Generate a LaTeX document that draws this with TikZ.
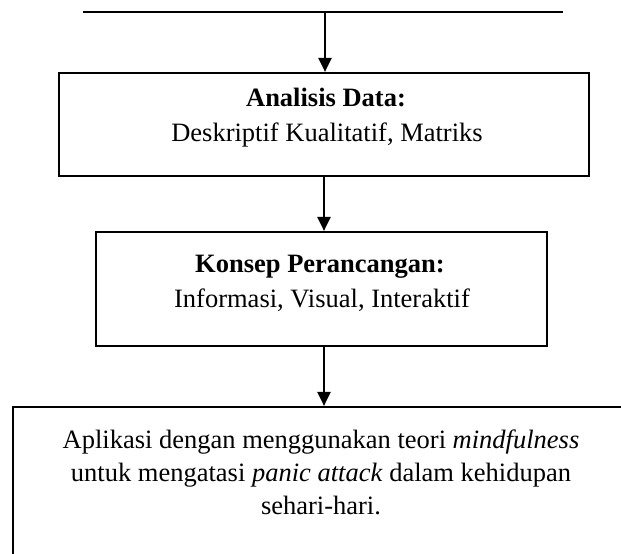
\documentclass[tikz,border=0pt]{standalone}
\usepackage{fontspec}
\setmainfont{Liberation Serif}
\usetikzlibrary{arrows.meta}
\begin{document}
\begin{tikzpicture}[x=1pt,y=-1pt,
  box/.style={draw=black, line width=2.2pt, inner sep=0pt, rectangle},
  txt/.style={anchor=base, inner sep=0pt, font=\fontsize{26.5}{33}\selectfont},
  conn/.style={line width=2.2pt, -{Triangle[length=14pt,width=13pt]}}]
\useasboundingbox (0,0) rectangle (621,554);
\fill[white] (0,0) rectangle (621,554);
\clip (0,0) rectangle (621,554);
% top line
\coordinate (tl) at (83,12);
\coordinate (tr) at (563,12);
\coordinate (tm) at (325,12);
\draw[line width=2.2pt] (tl) -- (tr);
% boxes
\node[box, minimum width=530pt, minimum height=103pt] (b1) at (324,124.5) {};
\node[box, minimum width=451pt, minimum height=114pt] (b2) at (321.5,289) {};
\node[box, minimum width=627pt, minimum height=193pt] (b3) at (326.5,503.5) {};
% texts
\node[txt] (t1a) at (326,106) {\bfseries Analisis Data:};
\node[txt] (t1b) at (327,141) {Deskriptif Kualitatif, Matriks};
\node[txt] (t2a) at (320,272) {\bfseries Konsep Perancangan:};
\node[txt] (t2b) at (322,307) {Informasi, Visual, Interaktif};
\node[txt] (t3a) at (321,448) {Aplikasi dengan menggunakan teori \textit{mindfulness}};
\node[txt] (t3b) at (321,481) {untuk mengatasi \textit{panic attack} dalam kehidupan};
\node[txt] (t3c) at (321,514) {sehari-hari.};
% connectors
\draw[conn] (tm) -- (tm |- b1.north);
\draw[conn] (b1.south) -- (b1.south |- b2.north);
\draw[conn] (b2.south -| b1.south) -- (b1.south |- b3.north);
\end{tikzpicture}
\end{document}
